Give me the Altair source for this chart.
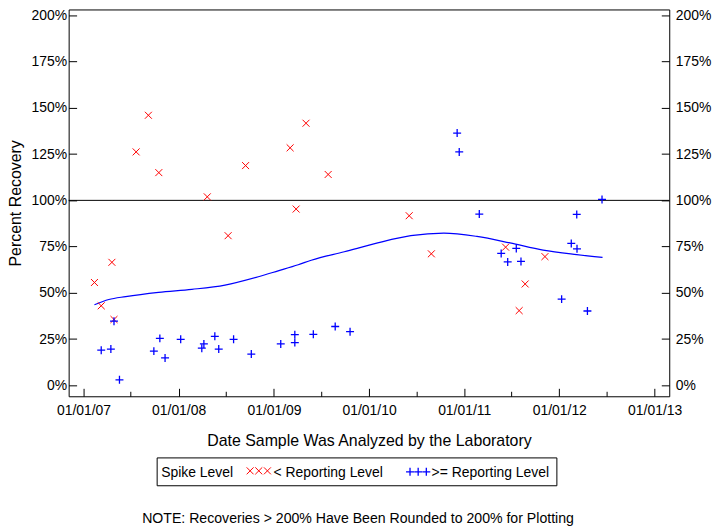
import altair as alt
import pandas as pd

# ---- data ----
low_dates = ["2007-02-12", "2007-03-10", "2007-04-20", "2007-04-28", "2007-07-22",
             "2007-09-07", "2007-10-17", "2008-04-20", "2008-07-09", "2008-09-14",
             "2009-03-04", "2009-03-27", "2009-05-04", "2009-07-28", "2010-06-04",
             "2010-08-28", "2011-06-09", "2011-07-31", "2011-08-23", "2011-11-07"]
low_vals = [55.6, 43.0, 66.5, 35.6, 126.2, 146.0, 115.0, 101.9, 80.9, 118.8,
            128.4, 95.3, 141.7, 114.0, 91.7, 71.1, 74.7, 40.4, 54.8, 69.6]

high_dates = ["2007-03-10", "2007-04-16", "2007-04-28", "2007-05-19", "2007-09-28",
              "2007-10-21", "2007-11-10", "2008-01-09", "2008-03-30", "2008-04-07",
              "2008-05-19", "2008-06-03", "2008-07-30", "2008-10-06", "2009-01-27",
              "2009-03-22", "2009-03-22", "2009-06-01", "2009-08-24", "2009-10-20",
              "2010-12-05", "2010-12-13", "2011-02-28", "2011-05-23", "2011-06-17",
              "2011-07-20", "2011-08-07", "2012-01-10", "2012-02-16", "2012-03-08",
              "2012-03-09", "2012-04-18", "2012-06-13"]
high_vals = [19.0, 19.6, 34.7, 3.0, 18.5, 25.4, 14.8, 24.9, 20.1, 22.4,
             26.5, 19.6, 24.9, 16.9, 22.4, 27.4, 23.1, 27.6, 31.8, 29.0,
             136.4, 126.2, 92.6, 71.3, 66.7, 74.0, 67.0, 46.6, 76.7, 92.4,
             73.8, 40.2, 100.5]

smooth_dates = ["2007-02-12", "2007-04-08", "2007-06-12", "2007-10-16", "2008-02-21",
                "2008-06-27", "2008-11-02", "2009-01-17", "2009-04-04", "2009-05-24",
                "2009-09-28", "2010-02-03", "2010-06-10", "2010-10-15", "2011-02-19",
                "2011-06-26", "2011-10-31", "2012-03-08", "2012-06-15"]
smooth_vals = [43.6, 46.4, 48.0, 50.3, 51.9, 54.2, 58.7, 61.9, 65.2, 67.6,
               72.2, 77.0, 80.9, 82.3, 80.5, 77.0, 73.1, 70.7, 69.2]

x_major_years = [2007, 2008, 2009, 2010, 2011, 2012, 2013]
x_minor_years = [2007, 2008, 2009, 2010, 2011, 2012]
y_ticks = [0, 25, 50, 75, 100, 125, 150, 175, 200]
ref_level = [100]

legend_title = "Spike Level"
legend_labels = ["< Reporting Level", ">= Reporting Level"]
note_text = "NOTE: Recoveries > 200% Have Been Rounded to 200% for Plotting"

# ---- chart ----
FONT = "Liberation Sans"
X_SHAPE = "M-1,-1L1,1M-1,1L1,-1"
P_SHAPE = "M-1,0L1,0M0,-1L0,1"

low_df = pd.DataFrame({"date": low_dates, "pct": low_vals})
high_df = pd.DataFrame({"date": high_dates, "pct": high_vals})
smooth_df = pd.DataFrame({"date": smooth_dates, "pct": smooth_vals})
ref_df = pd.DataFrame({"pct": ref_level})

xscale = alt.Scale(domain=["2006-11-05", "2013-02-26"])
yscale = alt.Scale(domain=[-5.91, 203.2], nice=False, zero=False)

major_axis = alt.Axis(
    values=[alt.DateTime(year=y, month=1, date=1) for y in x_major_years],
    format="%m/%d/%y", orient="bottom", offset=-8, tickSize=8, domain=False,
    grid=False, labelPadding=7, labelFlush=False, labelOverlap=False,
    title="Date Sample Was Analyzed by the Laboratory", titlePadding=16)
minor_axis = alt.Axis(
    values=[alt.DateTime(year=y, month=7, date=1) for y in x_minor_years],
    orient="bottom", offset=-5, tickSize=5, domain=False, grid=False,
    labels=False, title=None)
left_axis = alt.Axis(values=y_ticks, labelExpr="datum.value + '%'", orient="left",
                     offset=-8, tickSize=8, domain=False, grid=False,
                     labelPadding=2, title="Percent Recovery", titlePadding=8)
right_axis = alt.Axis(values=y_ticks, labelExpr="datum.value + '%'", orient="right",
                      offset=-8, tickSize=8, domain=False, grid=False,
                      labelPadding=6, title=None)

ref_line = alt.Chart(ref_df).mark_rule(color="black", strokeWidth=1).encode(
    y=alt.Y("pct:Q", scale=yscale, axis=None))

smooth = alt.Chart(smooth_df).mark_line(color="blue", strokeWidth=1.2,
                                        interpolate="monotone").encode(
    x=alt.X("date:T", scale=xscale, axis=minor_axis),
    y=alt.Y("pct:Q", scale=yscale, axis=None))

low_pts = alt.Chart(low_df).mark_point(shape=X_SHAPE, size=49, color="red",
                                       filled=False, strokeWidth=1, opacity=1).encode(
    x=alt.X("date:T", scale=xscale, axis=major_axis),
    y=alt.Y("pct:Q", scale=yscale, axis=left_axis))

high_pts = alt.Chart(high_df).mark_point(shape=P_SHAPE, size=64, color="blue",
                                         filled=False, strokeWidth=1.3, opacity=1).encode(
    x=alt.X("date:T", scale=xscale, axis=None),
    y=alt.Y("pct:Q", scale=yscale, axis=right_axis))

# ---- manual legend and note (layout, not data) ----
one = pd.DataFrame({"k": [0]})
box = alt.Chart(one).mark_rect(fill="white", stroke="black", strokeWidth=1).encode(
    x=alt.value(89), x2=alt.value(491), y=alt.value(451), y2=alt.value(479))

def txt(s, xpos, ypos, align="left", size=14):
    return alt.Chart(one).mark_text(text=s, align=align, baseline="middle",
                                    font=FONT, fontSize=size, color="black").encode(
        x=alt.value(xpos), y=alt.value(ypos))

leg_title = txt(legend_title, 93, 466)
leg_low = txt(legend_labels[0], 206, 466)
leg_high = txt(legend_labels[1], 365, 466)
note = txt(note_text, 291, 512, align="center", size=14.2)

def sym(xpos, ypos, shape, size, color, sw):
    return alt.Chart(one).mark_point(shape=shape, size=size, color=color, filled=False,
                                     strokeWidth=sw, opacity=1).encode(
        x=alt.value(xpos), y=alt.value(ypos))

leg_syms = [sym(x, 464, X_SHAPE, 49, "red", 1) for x in (182.5, 191.2, 199.9)] + \
           [sym(x, 465, P_SHAPE, 64, "blue", 1.3) for x in (343.3, 351.5, 359.7)]

chart = alt.layer(ref_line, smooth, low_pts, high_pts, box, leg_title, leg_low,
                  leg_high, note, *leg_syms).resolve_axis(
    x="independent", y="independent"
).properties(
    width=604, height=389,
    padding={"left": 61, "top": 0, "right": 43, "bottom": 131},
    autosize=alt.AutoSizeParams(type="none"),
).configure_view(stroke="black", strokeWidth=1).configure_axis(
    labelFont=FONT, titleFont=FONT, labelFontSize=14, titleFontSize=16,
    titleFontWeight="normal", labelColor="black", titleColor="black",
    tickColor="black", tickWidth=1)

chart.save("out.html", embed_options={"renderer": "svg", "actions": False})
